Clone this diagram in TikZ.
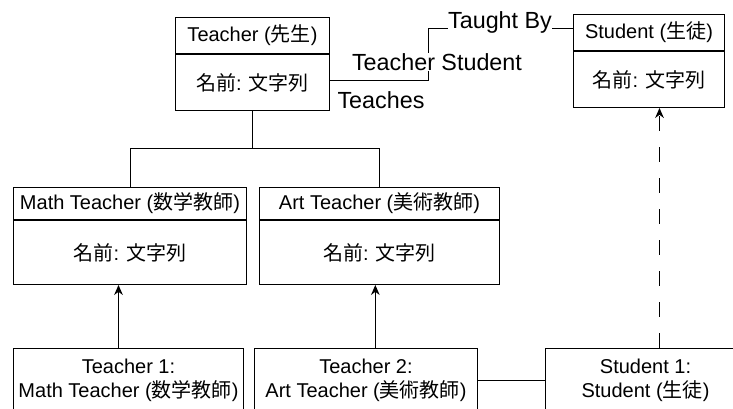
\documentclass[tikz,border=0pt]{standalone}
\usepackage{fontspec}
\setmainfont{Liberation Sans}
\newfontfamily\cjk{Noto Sans CJK JP}
\usepackage{tikz}
\usetikzlibrary{arrows.meta,positioning}

\begin{document}
\begin{tikzpicture}[x=0.75pt,y=0.75pt,yscale=-1,xscale=1,
        every node/.style={font=\fontsize{15}{18}\selectfont},
        box/.style={draw, line width=0.75pt, inner sep=0.75pt, align=center},
        lbl/.style={fill=white, inner sep=0pt, font=\fontsize{17.5}{21}\selectfont},
        inst/.style={-{Stealth[length=7.5pt,width=6.5pt]}, line width=0.75pt}]
        \useasboundingbox (0,0) rectangle (733,409);

        % classes
        \node [box, minimum width=115.5pt, minimum height=27pt, anchor=north west] (teacherH) at (175,17) {Teacher ({\cjk 先生})};
        \node [box, minimum width=115.5pt, minimum height=42pt, anchor=north] (teacherB) at (teacherH.south) {{\cjk 名前}: {\cjk 文字列}};
        \node [box, minimum width=113.25pt, minimum height=27pt, anchor=north west] (studentH) at (573,14) {Student ({\cjk 生徒})};
        \node [box, minimum width=113.25pt, minimum height=42pt, anchor=north] (studentB) at (studentH.south) {{\cjk 名前}: {\cjk 文字列}};
        \node [box, minimum width=174.75pt, minimum height=24pt, anchor=north west] (mathH) at (13,187) {Math Teacher ({\cjk 数学教師})};
        \node [box, minimum width=174.75pt, minimum height=48pt, anchor=north] (mathB) at (mathH.south) {{\cjk 名前}: {\cjk 文字列}};
        \node [box, minimum width=180pt, minimum height=24pt, anchor=north west] (artH) at (259,187) {Art Teacher ({\cjk 美術教師})};
        \node [box, minimum width=180pt, minimum height=48pt, anchor=north] (artB) at (artH.south) {{\cjk 名前}: {\cjk 文字列}};

        % objects
        \node [box, minimum width=172.5pt, minimum height=48pt, anchor=north west] (teacher1) at (13,348) {Teacher 1:\\Math Teacher ({\cjk 数学教師})};
        \node [box, minimum width=167.25pt, minimum height=48pt, anchor=north west] (teacher2) at (254,348) {Teacher 2:\\Art Teacher ({\cjk 美術教師})};
        \node [box, minimum width=150pt, minimum height=48pt, anchor=north west] (student1) at (545,348) {Student 1:\\Student ({\cjk 生徒})};

        % links
        \draw [line width=0.75pt] ([yshift=-1.5pt]teacherB.east) -- ++(98,0) |- ([yshift=-3pt]studentH.west);
        \draw [line width=0.75pt] (teacherB.south) -- ++(0,38) coordinate (fork) -| (mathH.north);
        \draw [line width=0.75pt] (fork) -| (artH.north);
        \draw [inst] ([xshift=-7.5pt]teacher1.north) -- ([xshift=-7.5pt]teacher1.north |- mathB.south);
        \draw [inst] ([xshift=7pt]teacher2.north) -- ([xshift=7pt]teacher2.north |- artB.south);
        \draw [inst, dash pattern=on 11.25pt off 12pt] ([xshift=10.5pt]student1.north) -- ([xshift=10.5pt]student1.north |- studentB.south);
        \draw [line width=0.75pt] (teacher2.east) -- (student1.west);

        % labels
        \node [lbl] (taughtBy) at (500,22) {Taught By};
        \node [lbl] (teacherStudent) at (437,62) {Teacher Student};
        \node [lbl] (teaches) at (381,100) {Teaches};
\end{tikzpicture}
\end{document}
